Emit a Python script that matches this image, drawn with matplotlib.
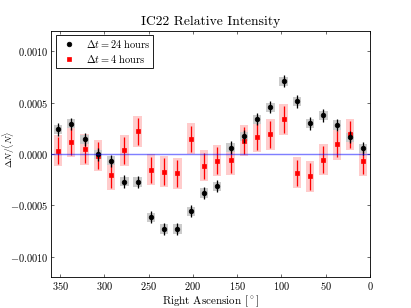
import matplotlib
matplotlib.use('Agg')
import matplotlib.pyplot as plt
from matplotlib.ticker import FuncFormatter, FixedLocator

plt.rcParams.update({
    'font.family': 'cmr10',
    'mathtext.fontset': 'cm',
    'axes.formatter.use_mathtext': True,
    'font.size': 14.5,
    'xtick.direction': 'in',
    'ytick.direction': 'in',
    'xtick.top': True,
    'ytick.right': True,
    'xtick.major.size': 4,
    'ytick.major.size': 4,
    'xtick.major.pad': 4,
    'ytick.major.pad': 4,
})

ra = [352.5, 337.5, 322.5, 307.5, 292.5, 277.5, 262.5, 247.5, 232.5, 217.5,
      202.5, 187.5, 172.5, 157.5, 142.5, 127.5, 112.5, 97.5, 82.5, 67.5,
      52.5, 37.5, 22.5, 7.5]
rel24 = [0.000238, 0.000292, 0.000140, -0.000006, -0.000068, -0.000269,
         -0.000273, -0.000617, -0.000730, -0.000730, -0.000558, -0.000380,
         -0.000315, 0.000062, 0.000170, 0.000338, 0.000455, 0.000706,
         0.000510, 0.000296, 0.000374, 0.000280, 0.000163, 0.000053]
err24 = 0.00006
sys24 = 0.000045
rel4 = [0.000030, 0.000117, 0.000043, -0.000016, -0.000205, 0.000036,
        0.000221, -0.000156, -0.000172, -0.000188, 0.000146, -0.000117,
        -0.000065, -0.000058, 0.000127, 0.000166, 0.000189, 0.000335,
        -0.000185, -0.000220, -0.000055, 0.000095, 0.000189, -0.000065]
err4 = 0.00013
sys4 = 0.00015
xticks = [350, 300, 250, 200, 150, 100, 50, 0]
yticks = [-0.0010, -0.0005, 0.0, 0.0005, 0.0010]

fig = plt.figure(figsize=(8, 6), dpi=51.375)
ax = fig.add_axes([0.125, 0.1, 0.775, 0.8])

box_w = 9.5
ax.bar(ra, [2 * sys4] * len(ra), bottom=[v - sys4 for v in rel4], width=box_w,
       color='#ffcccc', edgecolor='none', zorder=1)
ax.bar(ra, [2 * sys24] * len(ra), bottom=[v - sys24 for v in rel24], width=box_w,
       color='#cccccc', edgecolor='none', zorder=2)
ax.errorbar(ra, rel4, yerr=err4, fmt='s', color='red', ms=6.5, elinewidth=1.8,
            capsize=0, zorder=3)
ax.errorbar(ra, rel24, yerr=err24, fmt='o', color='black', ms=6.5, elinewidth=1.8,
            capsize=0, zorder=4)
ax.axhline(0, color='blue', alpha=0.5, lw=2, zorder=5)

# legend proxies
h1, = ax.plot([], [], 'o', color='black', ms=6.5, label=r'$\Delta t=$24 hours')
h2, = ax.plot([], [], 's', color='red', ms=6.5, label=r'$\Delta t=$4 hours')
leg = ax.legend(handles=[h1, h2], loc='upper left', numpoints=1, fancybox=False,
                framealpha=1, edgecolor='black', borderaxespad=0.4,
                fontsize=14.5, handletextpad=0.6, borderpad=0.3,
                labelspacing=0.3)
leg.get_frame().set_linewidth(1.2)

ax.set_xlim(360, 0)
ax.set_ylim(-0.0012, 0.0012)
ax.xaxis.set_major_locator(FixedLocator(xticks))
ax.yaxis.set_major_locator(FixedLocator(yticks))
ax.yaxis.set_major_formatter(FuncFormatter(lambda v, p: r'$%.4f$' % v if abs(v) > 1e-12 else r'$0.0000$'))
ax.xaxis.set_major_formatter(FuncFormatter(lambda v, p: r'$%d$' % v))
for s in ax.spines.values():
    s.set_linewidth(1.2)

ax.set_title('IC22 Relative Intensity', fontsize=19, pad=8)
ax.set_xlabel(r'Right Ascension [$^\circ$]', fontsize=15.5, labelpad=2)
ax.set_ylabel(r'$\Delta N/\langle N\rangle$', fontsize=13)
ax.yaxis.set_label_coords(-0.108, 0.52)

fig.savefig('out.png', dpi=51.375)
